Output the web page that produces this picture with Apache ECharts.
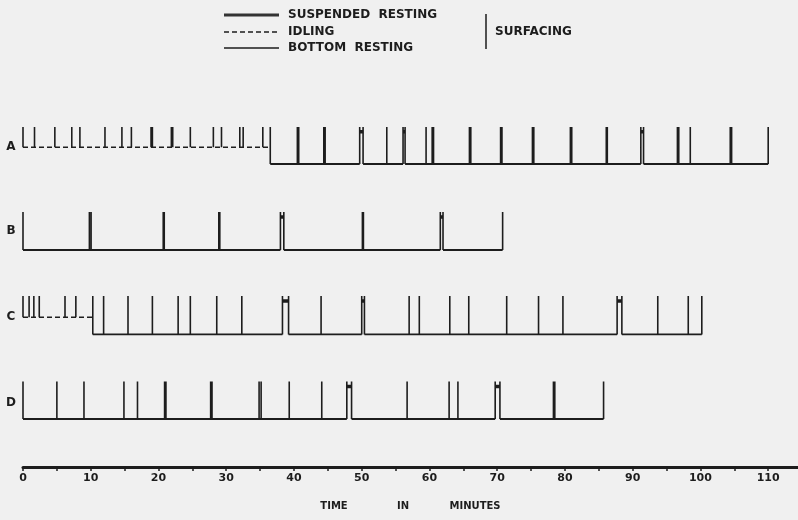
<!DOCTYPE html>
<html><head><meta charset="utf-8">
<script src="https://cdn.jsdelivr.net/npm/echarts@6/dist/echarts.min.js"></script>
<style>html,body{margin:0;padding:0;background:#f0f0f0}#c{width:798px;height:520px}</style>
</head><body><div id="c"></div>
<script>
// ---- data (minutes) ----
const rowNames = ['A', 'B', 'C', 'D'];
const xTickLabels = [0, 10, 20, 30, 40, 50, 60, 70, 80, 90, 100, 110];

// end of idling phase (0 = no idling), end of record
const idleEnds = [36.5, 0, 10.3, 0];
const recordEnds = [110.0, 70.8, 100.2, 85.7];

// surfacing events [start, end]
const aSurfacing = [[0,0],[1.7,1.7],[4.7,4.7],[7.2,7.2],[8.4,8.4],[12.1,12.1],[14.6,14.6],[16.0,16.0],[18.9,19.1],[21.9,22.1],[24.7,24.7],[28.1,28.1],[29.3,29.3],[32.0,32.0],[32.5,32.5],[35.4,35.4],[36.5,36.5],[40.5,40.7],[44.4,44.6],[53.7,53.7],[59.5,59.5],[60.4,60.6],[65.9,66.1],[70.5,70.7],[75.2,75.4],[80.8,81.0],[86.1,86.25],[96.6,96.8],[98.5,98.5],[104.4,104.6],[110.0,110.0]];
const bSurfacing = [[0,0],[9.8,10.05],[20.7,20.85],[28.9,29.05],[50.1,50.25],[70.8,70.8]];
const cSurfacing = [[0,0],[0.9,0.9],[1.6,1.6],[2.4,2.4],[6.2,6.2],[7.8,7.8],[10.3,10.3],[11.9,11.9],[15.5,15.5],[19.1,19.1],[22.9,22.9],[24.7,24.7],[28.6,28.6],[32.3,32.3],[44.0,44.0],[57.0,57.0],[58.5,58.5],[63.0,63.0],[65.8,65.8],[71.4,71.4],[76.1,76.1],[79.7,79.7],[93.7,93.7],[98.2,98.2],[100.2,100.2]];
const dSurfacing = [[0,0],[5.0,5.0],[9.0,9.0],[14.9,14.9],[16.9,16.9],[20.9,21.1],[27.7,27.9],[34.85,35.15],[39.3,39.3],[44.1,44.1],[56.7,56.7],[62.9,62.9],[64.2,64.2],[78.3,78.5],[85.7,85.7]];

// suspended resting intervals [start, end]
const aSuspended = [[49.7,50.2],[56.1,56.4],[91.2,91.6]];
const bSuspended = [[38.0,38.5],[61.6,62.0]];
const cSuspended = [[38.3,39.2],[50.0,50.4],[87.7,88.4]];
const dSuspended = [[47.8,48.5],[69.7,70.4]];

const surfacingRows = [aSurfacing, bSurfacing, cSurfacing, dSurfacing];
const suspendedRows = [aSuspended, bSuspended, cSuspended, dSuspended];

// ---- layout / style ----
const INK = '#1d1d1d';
const TOP = 1, BOT = 0, IDLE = 0.45, BAR = 0.87;
const BRK = ['-', '-'];
const gridTops = [127, 212, 296, 381.5];
const gridHeights = [37, 38, 38.5, 37.5];
const labelY = [147, 231, 317, 403];
const XMAX = 114.4;
const FONT = 'bold 12px "DejaVu Sans", sans-serif';

const grids = [], xAxes = [], yAxes = [], series = [];
rowNames.forEach((nm, i) => {
  grids.push({left: 23, right: 0, top: gridTops[i], height: gridHeights[i], outerBoundsMode: 'none', containLabel: false});
  const last = i === rowNames.length - 1;
  xAxes.push({
    gridIndex: i, type: 'value', min: 0, max: XMAX, interval: 5,
    show: last, offset: last ? 48 : 0,
    axisLine: {show: true, onZero: false, lineStyle: {color: INK, width: 3}},
    axisTick: {show: true, length: 4, lineStyle: {color: INK, width: 1.5}},
    splitLine: {show: false},
    axisLabel: {
      margin: 6, color: INK, fontWeight: 'bold', fontSize: 11, fontFamily: 'DejaVu Sans',
      showMaxLabel: false,
      formatter: v => (xTickLabels.indexOf(v) >= 0 ? String(v) : '')
    }
  });
  yAxes.push({gridIndex: i, type: 'value', min: 0, max: 1, show: false});

  const idleEnd = idleEnds[i], end = recordEnds[i];
  const surf = surfacingRows[i], susp = suspendedRows[i];
  const common = {type: 'line', xAxisIndex: i, yAxisIndex: i, symbol: 'none', silent: true, animation: false, connectNulls: false};

  if (idleEnd > 0) {
    series.push(Object.assign({}, common, {
      data: [[0, IDLE], [idleEnd, IDLE]],
      lineStyle: {color: INK, width: 1.5, type: [5, 3]}
    }));
  }
  // bottom resting line, broken under suspended intervals
  const bottom = [];
  let start = idleEnd;
  susp.forEach(([s, e]) => { bottom.push([start, BOT], [s, BOT], BRK); start = e; });
  bottom.push([start, BOT], [end, BOT]);
  series.push(Object.assign({}, common, {data: bottom, lineStyle: {color: INK, width: 2}}));

  // surfacing verticals (a longer surfacing gives two close verticals = a heavy stroke)
  const sv = [];
  surf.forEach(([s, e]) => {
    const base = s < idleEnd ? IDLE : BOT;
    sv.push([s, base], [s, TOP], BRK);
    if (e > s) sv.push([e, TOP], [e, base], BRK);
  });
  susp.forEach(([s, e]) => {
    sv.push([s, BOT], [s, TOP], BRK, [e, TOP], [e, BOT], BRK);
  });
  series.push(Object.assign({}, common, {data: sv, lineStyle: {color: INK, width: 1.6, cap: 'butt'}}));

  // suspended resting bars
  const bars = [];
  susp.forEach(([s, e]) => { bars.push([s, BAR], [e, BAR], BRK); });
  series.push(Object.assign({}, common, {data: bars, lineStyle: {color: INK, width: 3.5}}));
});

const graphic = [];
rowNames.forEach((nm, i) => {
  graphic.push({type: 'text', style: {text: nm, x: 11, y: labelY[i], font: FONT, fill: INK, textAlign: 'center', textVerticalAlign: 'middle'}});
});
// legend
graphic.push(
  {type: 'line', shape: {x1: 224, y1: 15, x2: 279, y2: 15}, style: {stroke: '#333', lineWidth: 3}},
  {type: 'line', shape: {x1: 224, y1: 32, x2: 279, y2: 32}, style: {stroke: INK, lineWidth: 1.5, lineDash: [5, 3]}},
  {type: 'line', shape: {x1: 224, y1: 48, x2: 279, y2: 48}, style: {stroke: INK, lineWidth: 1.5}},
  {type: 'text', style: {text: 'SUSPENDED  RESTING', x: 288, y: 15, font: FONT, fill: INK, textVerticalAlign: 'middle'}},
  {type: 'text', style: {text: 'IDLING', x: 288, y: 32, font: FONT, fill: INK, textVerticalAlign: 'middle'}},
  {type: 'text', style: {text: 'BOTTOM  RESTING', x: 288, y: 48, font: FONT, fill: INK, textVerticalAlign: 'middle'}},
  {type: 'line', shape: {x1: 486, y1: 14, x2: 486, y2: 49}, style: {stroke: INK, lineWidth: 1.5}},
  {type: 'text', style: {text: 'SURFACING', x: 495, y: 32, font: FONT, fill: INK, textVerticalAlign: 'middle'}},
  {type: 'text', style: {text: 'TIME', x: 334, y: 506, font: 'bold 10px "DejaVu Sans", sans-serif', fill: INK, textAlign: 'center', textVerticalAlign: 'middle'}},
  {type: 'text', style: {text: 'IN', x: 403, y: 506, font: 'bold 10px "DejaVu Sans", sans-serif', fill: INK, textAlign: 'center', textVerticalAlign: 'middle'}},
  {type: 'text', style: {text: 'MINUTES', x: 475, y: 506, font: 'bold 10px "DejaVu Sans", sans-serif', fill: INK, textAlign: 'center', textVerticalAlign: 'middle'}}
);

const chart = echarts.init(document.getElementById('c'), null, {renderer: 'canvas'});
chart.setOption({
  backgroundColor: '#f0f0f0',
  animation: false,
  grid: grids, xAxis: xAxes, yAxis: yAxes, series: series, graphic: graphic
});
</script>
</body></html>
